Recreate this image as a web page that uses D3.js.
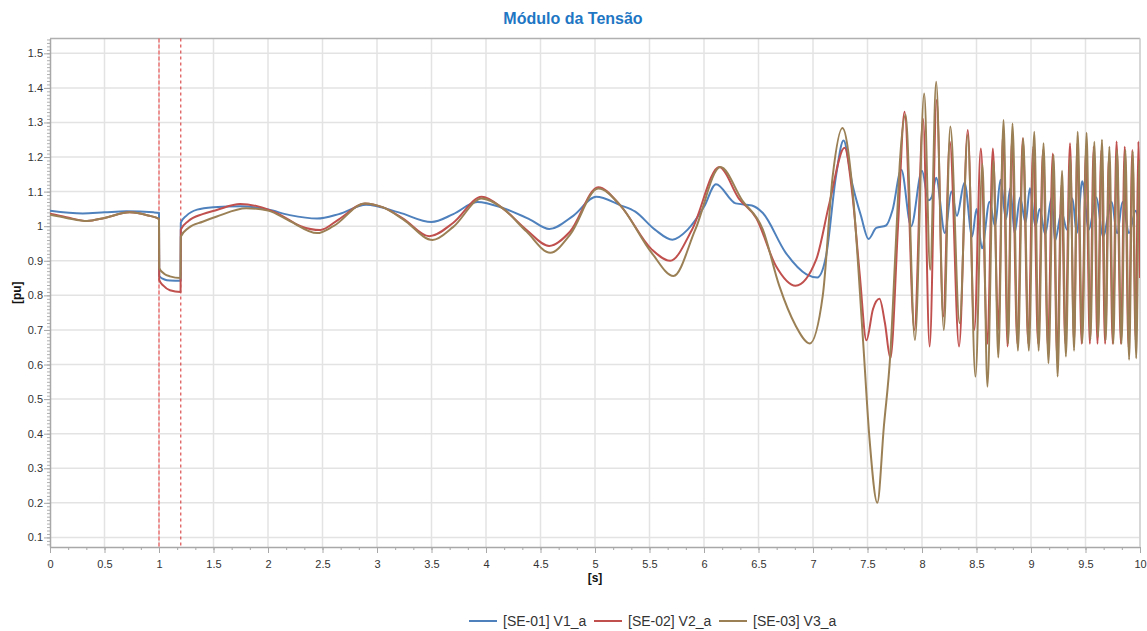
<!DOCTYPE html>
<html>
<head>
<meta charset="utf-8">
<script src="https://cdn.jsdelivr.net/npm/d3@7"></script>
<style>
  body { margin: 0; background: #fff; }
  text { font-family: "Liberation Sans", Arial, sans-serif; }
</style>
</head>
<body>
<svg id="chart" width="1147" height="631"></svg>
<script>
var seriesNames = ["[SE-01] V1_a", "[SE-02] V2_a", "[SE-03] V3_a"];
var xTicks = [0, 0.5, 1, 1.5, 2, 2.5, 3, 3.5, 4, 4.5, 5, 5.5, 6, 6.5, 7, 7.5, 8, 8.5, 9, 9.5, 10];
var xTickLabels = ["0", "0.5", "1", "1.5", "2", "2.5", "3", "3.5", "4", "4.5", "5", "5.5", "6", "6.5", "7", "7.5", "8", "8.5", "9", "9.5", "10"];
var yTicks = [0.1, 0.2, 0.3, 0.4, 0.5, 0.6, 0.7, 0.8, 0.9, 1, 1.1, 1.2, 1.3, 1.4, 1.5];
var yTickLabels = ["0.1", "0.2", "0.3", "0.4", "0.5", "0.6", "0.7", "0.8", "0.9", "1", "1.1", "1.2", "1.3", "1.4", "1.5"];
var faultTimes = [1.0, 1.2];

// [time s, voltage pu]
var seriesV1 = [
  [0, 1.045], [0.3, 1.037], [0.5, 1.04], [0.7, 1.043], [0.95, 1.04], [1.0, 1.038],
  [1.002, 0.856], [1.05, 0.846], [1.1, 0.843], [1.198, 0.842], [1.2, 1.01], [1.25, 1.03],
  [1.35, 1.048], [1.5, 1.055], [1.75, 1.058], [2.0, 1.048], [2.2, 1.032], [2.45, 1.022],
  [2.65, 1.035], [2.9, 1.062], [3.2, 1.04], [3.5, 1.012], [3.7, 1.035], [3.92, 1.07],
  [4.16, 1.052], [4.4, 1.02], [4.58, 0.992], [4.8, 1.03], [5.01, 1.085], [5.23, 1.061],
  [5.37, 1.042], [5.55, 0.99], [5.71, 0.961], [5.85, 0.99], [6.0, 1.056], [6.11, 1.121],
  [6.29, 1.066], [6.44, 1.06], [6.54, 1.038], [6.75, 0.923], [6.94, 0.861], [7.04, 0.852],
  [7.12, 0.914], [7.21, 1.143], [7.28, 1.248], [7.36, 1.123], [7.44, 1.03], [7.51, 0.963],
  [7.58, 0.995], [7.67, 1.002], [7.73, 1.047], [7.81, 1.163], [7.9, 1.0], [8.0, 1.16],
  [8.06, 1.075], [8.09, 1.085], [8.13, 1.14], [8.21, 0.98], [8.27, 1.1], [8.32, 1.03],
  [8.39, 1.126], [8.46, 0.97], [8.5, 1.05], [8.55, 0.936], [8.62, 1.071], [8.67, 1.0],
  [8.72, 1.134], [8.77, 1.02], [8.81, 1.11], [8.85, 0.98], [8.9, 1.083], [8.95, 1.01],
  [8.99, 1.11], [9.04, 1.0], [9.08, 1.05], [9.13, 0.977], [9.19, 1.083], [9.22, 0.957],
  [9.28, 1.04], [9.33, 0.99], [9.38, 1.08], [9.42, 0.98], [9.47, 1.13], [9.53, 0.99],
  [9.6, 1.083], [9.66, 0.97], [9.74, 1.07], [9.79, 0.98], [9.84, 1.07], [9.9, 0.98],
  [9.96, 1.045], [10.0, 0.99]
];

var seriesV2 = [
  [0, 1.036], [0.15, 1.026], [0.34, 1.015], [0.5, 1.024], [0.73, 1.04], [0.9, 1.031],
  [1.0, 1.021], [1.002, 0.845], [1.04, 0.828], [1.1, 0.815], [1.198, 0.81], [1.2, 0.99],
  [1.27, 1.015], [1.4, 1.035], [1.53, 1.047], [1.745, 1.064], [1.9, 1.058], [2.1, 1.035],
  [2.3, 1.0], [2.48, 0.989], [2.65, 1.02], [2.89, 1.066], [3.05, 1.055], [3.24, 1.022],
  [3.48, 0.971], [3.7, 1.01], [3.96, 1.085], [4.16, 1.05], [4.37, 0.99], [4.58, 0.943],
  [4.77, 0.984], [5.03, 1.113], [5.23, 1.061], [5.52, 0.933], [5.69, 0.9], [5.89, 0.99],
  [6.14, 1.171], [6.32, 1.08], [6.48, 1.023], [6.66, 0.885], [6.84, 0.828], [7.03, 0.904],
  [7.15, 1.066], [7.29, 1.227], [7.36, 1.095], [7.43, 0.856], [7.49, 0.67], [7.55, 0.76],
  [7.61, 0.79], [7.66, 0.72], [7.71, 0.618], [7.78, 1.0], [7.84, 1.331], [7.93, 0.70],
  [8.01, 1.31], [8.07, 0.652], [8.135, 1.365], [8.195, 0.739], [8.255, 1.245], [8.34, 0.652],
  [8.42, 1.278], [8.48, 0.70], [8.54, 1.225], [8.6, 0.66], [8.65, 1.225], [8.70, 0.70],
  [8.745, 1.27], [8.785, 0.652], [8.825, 1.25], [8.875, 0.66], [8.925, 1.254], [8.975, 0.66],
  [9.02, 1.23], [9.065, 0.66], [9.11, 1.22], [9.155, 0.65], [9.2, 1.21], [9.24, 0.62],
  [9.28, 1.12], [9.315, 0.66], [9.358, 1.24], [9.395, 0.662], [9.425, 1.24], [9.465, 0.66],
  [9.505, 1.22], [9.54, 0.66], [9.575, 1.23], [9.61, 0.66], [9.645, 1.22], [9.68, 0.66],
  [9.715, 1.2], [9.75, 0.66], [9.785, 1.245], [9.825, 0.66], [9.86, 1.23], [9.895, 0.65],
  [9.93, 1.22], [9.96, 0.67], [9.985, 1.245], [10.0, 0.85]
];

var seriesV3 = [
  [0, 1.033], [0.15, 1.024], [0.34, 1.015], [0.5, 1.024], [0.73, 1.04], [0.9, 1.031],
  [1.0, 1.021], [1.002, 0.879], [1.05, 0.862], [1.1, 0.855], [1.198, 0.85], [1.2, 0.97],
  [1.27, 0.995], [1.4, 1.013], [1.53, 1.028], [1.8, 1.052], [2.0, 1.045], [2.2, 1.015],
  [2.45, 0.98], [2.6, 1.0], [2.89, 1.066], [3.05, 1.055], [3.24, 1.02], [3.51, 0.96],
  [3.7, 0.998], [3.96, 1.08], [4.16, 1.05], [4.37, 0.985], [4.59, 0.923], [4.77, 0.975],
  [5.03, 1.109], [5.23, 1.061], [5.52, 0.923], [5.72, 0.856], [5.92, 0.99], [6.15, 1.171],
  [6.35, 1.075], [6.54, 0.99], [6.69, 0.828], [6.84, 0.713], [6.97, 0.661], [7.09, 0.8],
  [7.18, 1.143], [7.27, 1.284], [7.36, 1.114], [7.46, 0.665], [7.52, 0.379], [7.59, 0.2],
  [7.65, 0.42], [7.71, 0.633], [7.76, 0.95], [7.8, 1.2], [7.85, 1.322], [7.935, 0.671],
  [8.02, 1.384], [8.075, 0.874], [8.13, 1.418], [8.2, 0.70], [8.26, 1.288], [8.345, 0.72],
  [8.42, 1.264], [8.49, 0.565], [8.555, 1.18], [8.60, 0.536], [8.656, 1.19], [8.70, 0.62],
  [8.748, 1.307], [8.79, 0.66], [8.83, 1.297], [8.88, 0.64], [8.928, 1.254], [8.98, 0.64],
  [9.03, 1.273], [9.07, 0.64], [9.115, 1.24], [9.16, 0.604], [9.207, 1.206], [9.244, 0.565],
  [9.285, 1.16], [9.32, 0.623], [9.36, 1.2], [9.395, 0.64], [9.428, 1.273], [9.47, 0.662],
  [9.51, 1.27], [9.545, 0.672], [9.581, 1.244], [9.615, 0.68], [9.651, 1.25], [9.685, 0.67],
  [9.719, 1.23], [9.755, 0.66], [9.789, 1.22], [9.83, 0.66], [9.866, 1.22], [9.9, 0.614],
  [9.933, 1.216], [9.965, 0.618], [9.994, 1.19], [10.0, 1.15]
];

var colors = ["#4f81bd", "#c0504d", "#9b8056"];
var allSeries = [seriesV1, seriesV2, seriesV3];

var plotLeft = 50, plotRight = 1140, plotTop = 38.5, plotBottom = 547;

var svg = d3.select("#chart");

var x = d3.scaleLinear().domain([0, 10]).range([plotLeft, plotRight]);
var y = d3.scaleLinear().domain([0.0723, 1.5428]).range([plotBottom, plotTop]);

// title
svg.append("text")
  .attr("x", 573)
  .attr("y", 24)
  .attr("text-anchor", "middle")
  .style("font-size", "16px")
  .style("font-weight", "bold")
  .style("fill", "#1f77c4")
  .text("Módulo da Tensão");

// grid
var grid = svg.append("g");
grid.selectAll(".vgrid")
  .data(xTicks.slice(1))
  .enter()
  .append("line")
  .attr("x1", function (d) { return x(d); })
  .attr("x2", function (d) { return x(d); })
  .attr("y1", plotTop)
  .attr("y2", plotBottom)
  .attr("stroke", "#e3e3e3")
  .attr("stroke-width", 1.5);
grid.selectAll(".hgrid")
  .data(yTicks)
  .enter()
  .append("line")
  .attr("x1", plotLeft)
  .attr("x2", plotRight)
  .attr("y1", function (d) { return y(d); })
  .attr("y2", function (d) { return y(d); })
  .attr("stroke", "#e3e3e3")
  .attr("stroke-width", 1.5);

// frame top
svg.append("line")
  .attr("x1", plotLeft).attr("x2", plotRight)
  .attr("y1", plotTop).attr("y2", plotTop)
  .attr("stroke", "#b0b0b0")
  .attr("stroke-width", 1.5);

// minor ticks
var xMinor = d3.range(0, 10.001, 1 / 6);
var yMinor = d3.range(0.08, 1.545, 0.01);

svg.append("g")
  .attr("transform", "translate(0," + plotBottom + ")")
  .call(d3.axisBottom(x).tickValues(xMinor).tickSize(3).tickFormat(""))
  .call(function (g) {
    g.select(".domain").remove();
    g.selectAll("line").attr("stroke", "#a8a8a8");
  });

svg.append("g")
  .attr("transform", "translate(" + plotLeft + ",0)")
  .call(d3.axisLeft(y).tickValues(yMinor).tickSize(3).tickFormat(""))
  .call(function (g) {
    g.select(".domain").remove();
    g.selectAll("line").attr("stroke", "#b0b0b0");
  });

// axes
var xAxis = d3.axisBottom(x)
  .tickValues(xTicks)
  .tickSize(6)
  .tickPadding(7)
  .tickSizeOuter(0)
  .tickFormat(function (d, i) { return xTickLabels[i]; });

svg.append("g")
  .attr("transform", "translate(0," + plotBottom + ")")
  .call(xAxis)
  .call(function (g) {
    g.select(".domain").attr("stroke", "#a8a8a8").attr("stroke-width", 1.5);
    g.selectAll("line").attr("stroke", "#a8a8a8");
    g.selectAll("text")
      .style("font-size", "11px")
      .style("font-family", "'Liberation Sans', Arial, sans-serif")
      .attr("fill", "#333");
  });

var yAxis = d3.axisLeft(y)
  .tickValues(yTicks)
  .tickSize(6)
  .tickPadding(1)
  .tickSizeOuter(0)
  .tickFormat(function (d, i) { return yTickLabels[i]; });

svg.append("g")
  .attr("transform", "translate(" + plotLeft + ",0)")
  .call(yAxis)
  .call(function (g) {
    g.select(".domain").attr("stroke", "#a8a8a8").attr("stroke-width", 1.5);
    g.selectAll("line").attr("stroke", "#a8a8a8");
    g.selectAll("text")
      .style("font-size", "11px")
      .style("font-family", "'Liberation Sans', Arial, sans-serif")
      .attr("fill", "#333");
  });

// right edge
svg.append("line")
  .attr("x1", plotRight).attr("x2", plotRight)
  .attr("y1", plotTop).attr("y2", plotBottom)
  .attr("stroke", "#d0d0d0")
  .attr("stroke-width", 1.5);

// axis titles
svg.append("text")
  .attr("x", (plotLeft + plotRight) / 2)
  .attr("y", 582)
  .attr("text-anchor", "middle")
  .style("font-size", "12px")
  .style("font-weight", "bold")
  .style("fill", "#111")
  .text("[s]");

svg.append("text")
  .attr("transform", "translate(21," + (plotTop + plotBottom) / 2 + ") rotate(-90)")
  .attr("text-anchor", "middle")
  .style("font-size", "12px")
  .style("font-weight", "bold")
  .style("fill", "#111")
  .text("[pu]");

// fault markers
svg.selectAll(".fault")
  .data(faultTimes)
  .enter()
  .append("line")
  .attr("x1", function (d) { return x(d); })
  .attr("x2", function (d) { return x(d); })
  .attr("y1", plotTop)
  .attr("y2", plotBottom)
  .attr("stroke", function (d, i) { return i == 0 ? "#f23c3c" : "#d42a2a"; })
  .attr("stroke-width", 1)
  .attr("stroke-dasharray", function (d, i) { return i == 0 ? "4,2" : "3,3"; });

// lines
svg.append("clipPath")
  .attr("id", "plotClip")
  .append("rect")
  .attr("x", plotLeft)
  .attr("y", plotTop)
  .attr("width", plotRight - plotLeft)
  .attr("height", plotBottom - plotTop);

var line = d3.line()
  .x(function (d) { return x(d[0]); })
  .y(function (d) { return y(d[1]); })
  .curve(d3.curveMonotoneX);

svg.append("g")
  .attr("clip-path", "url(#plotClip)")
  .selectAll("path")
  .data(allSeries)
  .enter()
  .append("path")
  .attr("d", line)
  .attr("fill", "none")
  .attr("stroke", function (d, i) { return colors[i]; })
  .attr("stroke-width", 2)
  .attr("stroke-linejoin", "round");

// legend
var legend = svg.append("g")
  .attr("transform", "translate(469,621)");

var item = legend.selectAll("g")
  .data(seriesNames)
  .enter()
  .append("g")
  .attr("transform", function (d, i) { return "translate(" + i * 125 + ",0)"; });

item.append("line")
  .attr("x1", 0)
  .attr("x2", 28)
  .attr("y1", 0)
  .attr("y2", 0)
  .attr("stroke", function (d, i) { return colors[i]; })
  .attr("stroke-width", 2);

item.append("text")
  .attr("x", 34)
  .attr("y", 5)
  .style("font-size", "14px")
  .style("fill", "#333")
  .text(function (d) { return d; });
</script>
</body>
</html>
